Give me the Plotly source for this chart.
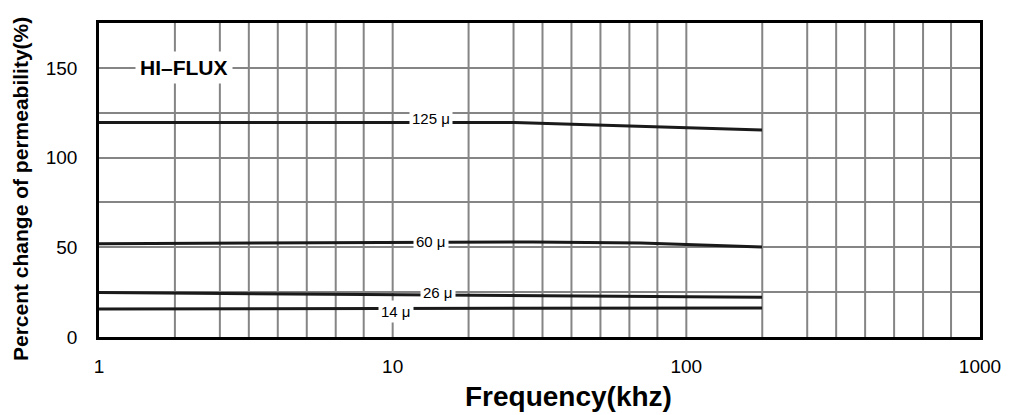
import numpy as np
import plotly.graph_objects as go

# ---- data ----
FREQ_125 = [1, 5, 26, 60, 181]
VAL_125 = [119.6, 119.6, 119.5, 117.8, 115.4]

FREQ_60 = [1, 10, 30, 70, 181]
VAL_60 = [52.0, 52.8, 53.0, 52.4, 50.2]

FREQ_26 = [1, 5, 25, 70, 181]
VAL_26 = [24.8, 23.9, 23.1, 22.8, 22.1]

FREQ_14 = [1, 10, 181]
VAL_14 = [15.6, 15.9, 16.2]

CURVE_LABELS = ["125 μ", "60 μ", "26 μ", "14 μ"]
X_TICK_VALS = [1, 10, 100, 1000]
X_TICK_TEXT = ["1", "10", "100", "1000"]
Y_TICK_VALS = [0, 50, 100, 150]
Y_MINOR_VALS = [25, 75, 125]

# ---- layout / style constants ----
LABEL_FREQ = [13.5, 13.5, 14.3, 10.3]
LABEL_Y = [122, 53.3, 25, 14]
GRID_FRACS = [0.0, 0.2585, 0.4116, 0.5102, 0.6088, 0.7075, 0.8061, 0.9014]
FONT = "Liberation Sans, Arial, sans-serif"
GRID_COLOR = "#858585"
LINE_COLOR = "#1a1a1a"

fig = go.Figure()

# custom vertical grid
gx, gy = [], []
for d in range(3):
    for f in GRID_FRACS:
        if d == 0 and f == 0.0:
            continue
        v = 10 ** (d + f)
        gx += [v, v, None]
        gy += [0, 175, None]
fig.add_trace(go.Scatter(x=gx, y=gy, mode="lines",
                         line=dict(color=GRID_COLOR, width=2),
                         hoverinfo="skip", showlegend=False))

for fx, fy in [(FREQ_125, VAL_125), (FREQ_60, VAL_60),
               (FREQ_26, VAL_26), (FREQ_14, VAL_14)]:
    fig.add_trace(go.Scatter(x=fx, y=fy, mode="lines",
                             line=dict(color=LINE_COLOR, width=3),
                             showlegend=False))

for lab, lf, ly in zip(CURVE_LABELS, LABEL_FREQ, LABEL_Y):
    fig.add_annotation(x=np.log10(lf), y=ly, text=lab, showarrow=False,
                       xref="x", yref="y", bgcolor="white", borderpad=2,
                       font=dict(family=FONT, size=15, color="black"))

fig.add_annotation(x=np.log10(1.95), y=150, text="<b>HI–FLUX</b>", showarrow=False,
                   xref="x", yref="y", bgcolor="white", borderpad=4,
                   font=dict(family=FONT, size=21, color="black"))

fig.add_annotation(x=0.533, y=-0.19, xref="paper", yref="paper",
                   text="<b>Frequency(khz)</b>", showarrow=False,
                   xanchor="center", yanchor="middle",
                   font=dict(family=FONT, size=28, color="black"))

fig.add_annotation(x=-0.089, y=0.47, xref="paper", yref="paper",
                   text="<b>Percent change of permeability(%)</b>", showarrow=False,
                   textangle=-90, xanchor="center", yanchor="middle",
                   font=dict(family=FONT, size=21, color="black"))

# page body has an 8px default margin; compensate so the plot lands where the reference has it
fig.update_layout(
    width=1005, height=407,
    margin=dict(l=91, r=31, t=13, b=78),
    paper_bgcolor="white", plot_bgcolor="white",
    showlegend=False,
    xaxis=dict(type="log", range=[0, 3], tickvals=X_TICK_VALS, ticktext=X_TICK_TEXT,
               showgrid=False, zeroline=False, showline=True, mirror=True,
               linecolor="black", linewidth=2.5, ticks="", ticklabelstandoff=10,
               tickfont=dict(family=FONT, size=19, color="black")),
    yaxis=dict(range=[0, 175], tickvals=Y_TICK_VALS, showgrid=True,
               gridcolor=GRID_COLOR, gridwidth=2, zeroline=False,
               minor=dict(tickvals=Y_MINOR_VALS, showgrid=True,
                          gridcolor=GRID_COLOR, gridwidth=2, ticks=""),
               showline=True, mirror=True, linecolor="black", linewidth=2.5,
               ticks="", ticklabelstandoff=15,
               tickfont=dict(family=FONT, size=19, color="black")),
)

fig.write_html("out.html")
